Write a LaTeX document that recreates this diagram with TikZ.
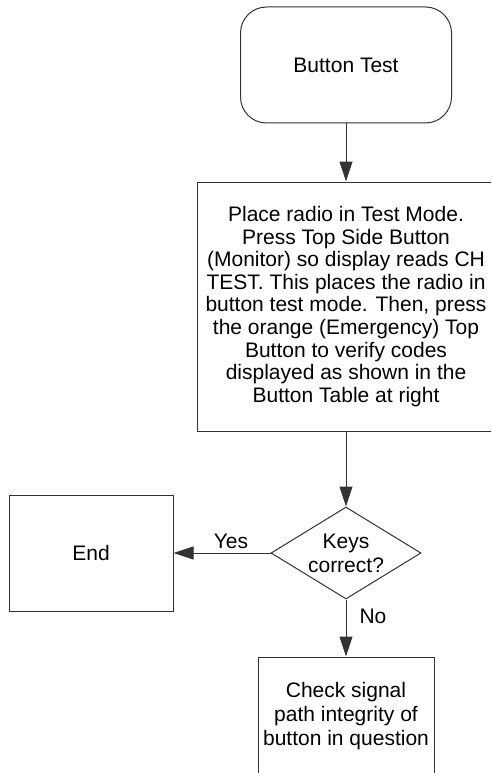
\documentclass[tikz,border=0pt]{standalone}
\usepackage{fontspec}
\setmainfont{Liberation Sans}
\usetikzlibrary{arrows.meta,shapes.geometric}
\begin{document}
\begin{tikzpicture}[x=1pt,y=-1pt,
  line/.style={draw=black!80, line width=1pt},
  txt/.style={font=\fontsize{21}{24}\selectfont, align=center},
  box/.style={line, txt, rectangle, inner sep=0pt},
  arr/.style={line, -{Triangle[length=20pt,width=13pt]}},
  lbl/.style={txt, inner sep=0pt}]
\useasboundingbox (0,0) rectangle (491,773);
\clip (0,0) rectangle (491,773);
\node[box, rounded corners=26pt, minimum width=211pt, minimum height=116pt] (start) at (346,65) {Button Test};
\node[box, font=\fontsize{21}{22.6}\selectfont, minimum width=298pt, minimum height=249pt] (proc) at (346,306.5)
  {Place radio in Test Mode.\\ Press Top Side Button\\ (Monitor) so display reads CH\\ TEST. This places the radio in\\ button test mode. Then, press\\ the orange (Emergency) Top\\ Button to verify codes\\ displayed as shown in the\\ Button Table at right};
\node[line, txt, diamond, aspect=1.63, inner sep=0pt, minimum width=150pt, minimum height=92pt] (dec) at (346,553) {Keys\\ correct?};
\node[box, minimum width=164pt, minimum height=116pt] (end) at (91,553) {End};
\node[box, minimum width=176pt, minimum height=118pt] (check) at (346,716) {Check signal\\ path integrity of\\ button in question};
\draw[arr] (start) -- (proc);
\draw[arr] (proc) -- (dec);
\draw[arr] (dec.west) -- (end.east);
\draw[arr] (dec.south) -- (check.north);
\node[lbl] (yes) at (231,541) {Yes};
\node[lbl] (no) at (373,616) {No};
\end{tikzpicture}
\end{document}
